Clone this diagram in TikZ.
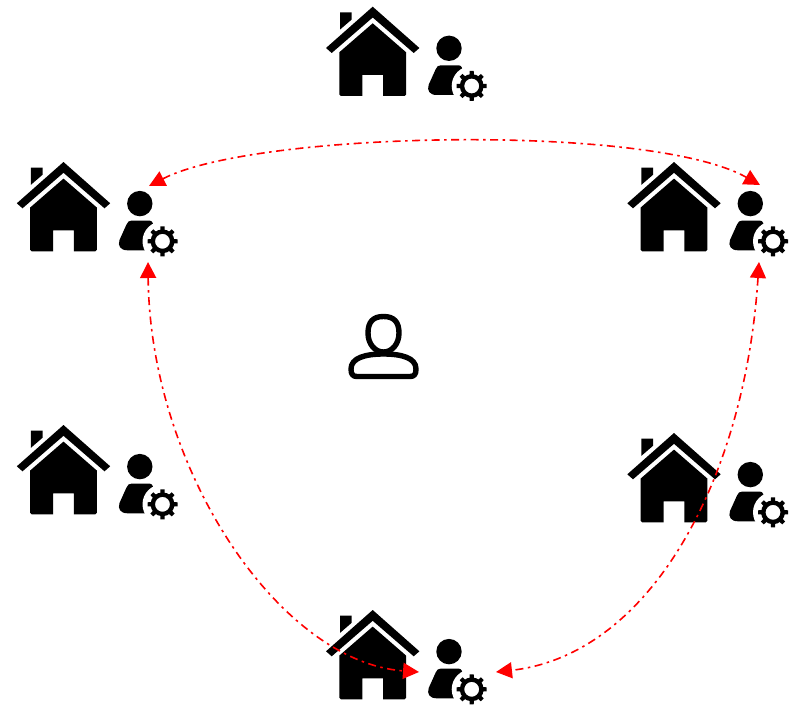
\documentclass[tikz,border=0pt]{standalone}
\usetikzlibrary{arrows.meta}
\tikzset{
  x=1pt,y=-1pt,
  link/.style={draw=red,line width=1.6pt,dash pattern=on 8pt off 4.5pt on 2.5pt off 4.5pt,
    {Triangle[length=16pt,width=16pt,fill=red]}-{Triangle[length=16pt,width=16pt,fill=red]}},
  homeuser/.pic={
    % roof, chimney, body with door
    \fill[black] (0,0) -- (46.7,41.3) -- (41,46.3) -- (0,10.8) -- (-41,46.3) -- (-46.7,41.3) -- cycle;
    \fill[black] (-32.7,22.9) -- (-32.7,5.6) -- (-21,5.6) -- (-21,12.8) -- cycle;
    \fill[black]
      (0,16.6) -- (33.3,45.5) -- (33.3,87.8) .. controls (33.3,88.8) and (32.8,89.3) .. (31.8,89.3) -- (10.3,89.3)
      -- (10.3,68.3) -- (-10.3,68.3) -- (-10.3,89.3) -- (-31.8,89.3)
      .. controls (-32.8,89.3) and (-33.3,88.8) .. (-33.3,87.8) -- (-33.3,45.5) -- cycle;
    % person
    \fill[black] (76.3,41.6) circle[radius=12.7pt];
    \fill[black] (68,58.6) -- (86,58.6) .. controls (89,58.6) and (90,62) .. (90,66) -- (90,88.3) -- (64,88.3)
      .. controls (57,88.3) and (54,84) .. (56,78) -- (63,62.5) .. controls (64.2,59.8) and (65.5,58.6) .. (68,58.6) -- cycle;
    \fill[white] (99,79.3) circle[radius=20pt];
    % gear
    \draw[black,line width=4.4pt] (99,79.3) circle[radius=9.7pt];
    \foreach \a in {0,45,...,315}{
      \fill[black,shift={(99,79.3)},rotate=\a] (10,-2.3) -- (15,-2) -- (15,2) -- (10,2.3) -- cycle;
    }
  }
}
\begin{document}
\begin{tikzpicture}
\useasboundingbox (0,0) rectangle (791,706);
\pic at (372.7,6.7) {homeuser};
\pic at (63.5,162) {homeuser};
\pic at (674,162) {homeuser};
\pic at (63.5,425) {homeuser};
\pic at (674,433) {homeuser};
\pic at (372.7,610) {homeuser};
% central user
\draw[black,line width=5.4pt,line join=round,fill=white]
  (383.5,354) .. controls (365,354) and (351,358) .. (351,369)
  .. controls (351,374.5) and (353,376.5) .. (357,376.5) -- (410,376.5)
  .. controls (414,376.5) and (416,374.5) .. (416,369)
  .. controls (416,358) and (402,354) .. (383.5,354) -- cycle;
\draw[black,line width=5.4pt,fill=white]
  (368,333) .. controls (368,322) and (373,316.5) .. (383.5,316.5)
  .. controls (394,316.5) and (399,322) .. (399,333)
  .. controls (399,344) and (392,352) .. (383.5,352)
  .. controls (375,352) and (368,344) .. (368,333) -- cycle;
\coordinate (tl) at (149,186);
\coordinate (tr) at (760,185);
\coordinate (ll) at (148,262);
\coordinate (rr) at (759,262);
\coordinate (bl) at (419,672);
\coordinate (br) at (496,672);
\path[link] (tl) .. controls (255,131) and (650,123) .. (tr);
\path[link] (ll) .. controls (150,470) and (280,662) .. (bl);
\path[link] (rr) .. controls (745,480) and (650,655) .. (br);
\end{tikzpicture}
\end{document}
